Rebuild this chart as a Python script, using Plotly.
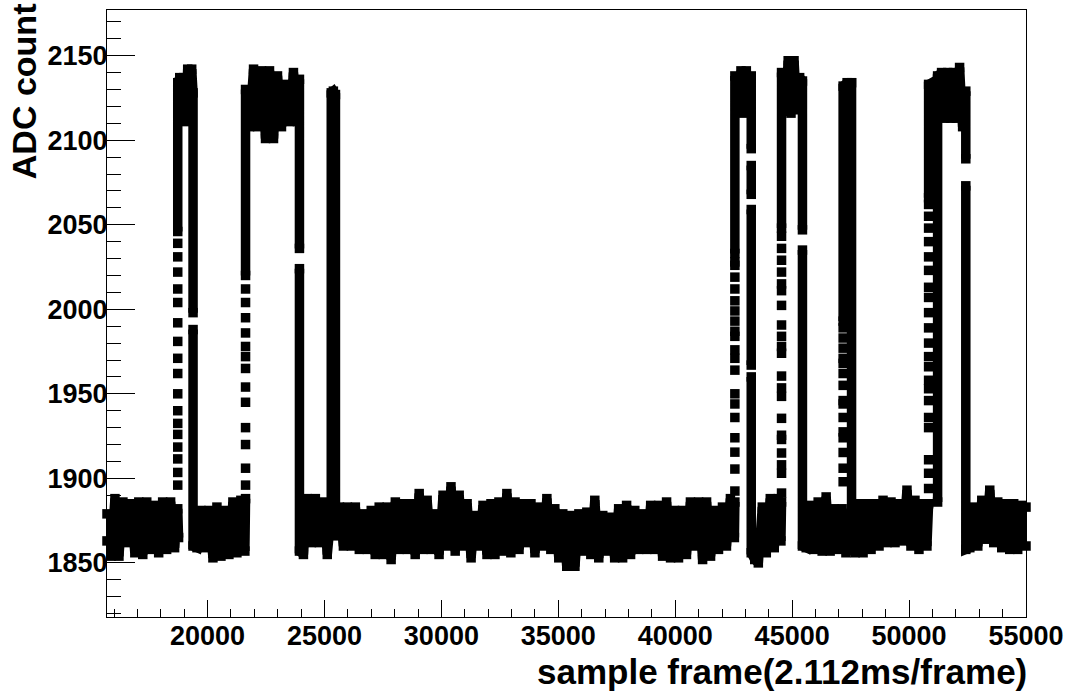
import plotly.graph_objects as go

# ---------------- data (frame, ADC count) ----------------
# baseline segments: alternating upper / lower edge of the noisy band
base_a_frame = [15700, 15700, 15870, 16040, 16210, 16380, 16550, 16720, 16890, 17060, 17230,
                17400, 17570, 17740, 17910, 18080, 18250, 18420, 18590, 18725, 18760]
base_a_adc = [1863, 1879, 1854, 1888, 1854, 1886, 1862, 1885, 1856, 1886, 1855,
              1886, 1858, 1884, 1856, 1886, 1858, 1886, 1859, 1882, 1865]

base_b_frame = [19548, 19718, 19889, 20060, 20230, 20401, 20572, 20742, 20913, 21084, 21254, 21425, 21596, 21625]
base_b_adc = [1859, 1881, 1859, 1881, 1853, 1883, 1854, 1881, 1855, 1886, 1856, 1887, 1857, 1888]

base_c_frame = [24100, 24270, 24440, 24610, 24780, 24950, 25120, 25290, 25290, 25380, 25470, 25470,
                25640, 25810, 25980, 26150, 26320, 26490, 26660, 26830, 27000, 27170,
                27340, 27510, 27680, 27850, 28030, 28200, 28370, 28540, 28710, 28880,
                29050, 29220, 29390, 29560, 29730, 29900, 30070, 30240, 30410, 30590,
                30760, 30930, 31100, 31270, 31440, 31610, 31780, 31950, 32120, 32290,
                32460, 32630, 32800, 32970, 33150, 33320, 33490, 33660, 33830, 34000,
                34170, 34340, 34510, 34680, 34850, 35020, 35190, 35360, 35530, 35710,
                35880, 36050, 36220, 36390, 36560, 36730, 36900, 37070, 37240, 37410,
                37580, 37750, 37920, 38090, 38270, 38440, 38610, 38780, 38950, 39120,
                39290, 39460, 39630, 39800, 39970, 40140, 40310, 40480, 40650, 40830,
                41000, 41170, 41340, 41510, 41680, 41850, 42020, 42190, 42360, 42530, 42550]
base_c_adc = [1855, 1888, 1862, 1888, 1862, 1886, 1855, 1880, 2128, 2129, 2127, 1866,
              1883, 1860, 1883, 1860, 1883, 1858, 1879, 1858, 1881, 1855,
              1883, 1855, 1883, 1852, 1886, 1858, 1885, 1858, 1885, 1855,
              1891, 1858, 1887, 1858, 1879, 1855, 1890, 1860, 1895, 1857,
              1890, 1860, 1885, 1853, 1878, 1860, 1884, 1855, 1885, 1855,
              1886, 1857, 1891, 1856, 1886, 1858, 1885, 1862, 1885, 1856,
              1883, 1860, 1888, 1858, 1882, 1853, 1879, 1848, 1878, 1848,
              1879, 1857, 1880, 1855, 1887, 1853, 1878, 1857, 1877, 1853,
              1882, 1853, 1884, 1855, 1881, 1858, 1879, 1858, 1884, 1858,
              1884, 1854, 1886, 1853, 1881, 1853, 1881, 1855, 1886, 1860,
              1886, 1852, 1886, 1854, 1881, 1858, 1883, 1860, 1888, 1865, 1886]

base_d_frame = [43400, 43553, 43723, 43894, 44065, 44235, 44406, 44520, 44546]
base_d_adc = [1852, 1850, 1883, 1856, 1888, 1859, 1888, 1863, 1886]

base_e_frame = [45600, 45771, 45941, 46112, 46283, 46453, 46624, 46795, 46965, 47136, 47300]
base_e_adc = [1859, 1884, 1858, 1886, 1857, 1889, 1857, 1882, 1858, 1882, 1856]

base_f_frame = [47691, 47862, 48033, 48203, 48374, 48544, 48715, 48886, 49056, 49227,
                49398, 49568, 49739, 49910, 50080, 50251, 50422, 50592, 50763, 50835]
base_f_adc = [1856, 1885, 1856, 1885, 1858, 1885, 1860, 1887, 1862, 1886,
              1862, 1885, 1863, 1893, 1860, 1887, 1858, 1885, 1860, 1885]

base_g_frame = [52597, 52768, 52938, 53109, 53280, 53450, 53621, 53792, 53962, 54133,
                54304, 54474, 54645, 54816, 55000, 55000]
base_g_adc = [1859, 1883, 1860, 1887, 1864, 1893, 1862, 1886, 1859, 1885,
              1858, 1885, 1858, 1884, 1860, 1883]

# pulses: rise column (solid part), top of pulse, fall column (None = visible gap)
p1_frame = [18725, 18725, 18810, 18895, 18980, 19066, 19151, 19236, 19322, 19380, 19380, None, 19380, 19380]
p1_adc = [2046, 2134, 2137, 2112, 2137, 2111, 2142, 2113, 2142, 2128, 1998, None, 1988, 1860]

p2_frame = [21625, 21625, 21796, 21967, 22137, 22308, 22479, 22649, 22820, 22991, 23161,
            23332, 23502, 23673, 23844, 23930, 23930, None, 23930, 23930]
p2_adc = [2020, 2130, 2108, 2142, 2108, 2141, 2101, 2141, 2101, 2138, 2108,
          2133, 2111, 2140, 2111, 2136, 2036, None, 2024, 1857]

p4_frame = [42550, 42550, 42700, 42810, 42930, 43040, 43160, 43250, 43250, None,
            43250, 43250, None, 43250, 43250, None, 43250, 43250]
p4_adc = [2033, 2138, 2117, 2141, 2116, 2141, 2119, 2138, 2095, None,
          2085, 2068, None, 2059, 1967, None, 1960, 1856]

p5_frame = [44546, 44546, 44700, 44830, 44950, 45080, 45200, 45320, 45440, 45440, None, 45440, 45440]
p5_adc = [2048, 2140, 2117, 2147, 2116, 2147, 2118, 2137, 2135, 2047, None, 2035, 1860]

p6_frame = [47180, 47180, 47350, 47540, 47540]
p6_adc = [1993, 2132, 2134, 2134, 1858]

p7_frame = [50835, 50835, 51220, 51220, 51220, 51390, 51520, 51650, 51780, 51900,
            52030, 52160, 52290, 52425, 52425, None, 52425, 52425]
p7_adc = [2066, 2133, 2136, 1886, 2138, 2140, 2113, 2140, 2113, 2140,
          2113, 2143, 2108, 2129, 2089, None, 2073, 1858]

# sparse samples on the rising edges (drawn as separate squares)
rise_frames = [18725, 21625, 42550, 44546, 47180, 50835]
p1_rise_adc = [1896, 1903.5, 1911.5, 1918.5, 1926, 1932.5, 1940, 1950, 1962, 1971, 1981,
               1992, 2004, 2012, 2022, 2031, 2039]
p2_rise_adc = [1896, 1906, 1920, 1930, 1945, 1954, 1965, 1972, 1978, 1986, 1995, 2004, 2012]
p4_rise_adc = [1892.5, 1905.5, 1915.5, 1924, 1936, 1944, 1950, 1964, 1971, 1976, 1984,
               1987, 1993, 1999, 2005, 2012, 2019, 2026, 2028]
p5_rise_adc = [1891.3, 1903, 1908, 1915, 1923, 1925.5, 1935.5, 1948.5, 1953.5, 1960.5,
               1974, 1978, 1984, 1990.7, 2002.3, 2011, 2015, 2022, 2029, 2036, 2043.2]
p6_rise_adc = [1898, 1906, 1915.3, 1924, 1927.5, 1936, 1944, 1946, 1955, 1962, 1968,
               1971, 1977, 1983, 1989]
p7_rise_adc = [1894, 1903, 1911, 1930, 1936, 1946, 1953, 1958, 1966, 1972, 1980, 1989,
               1998, 2007, 2013, 2023, 2031, 2040, 2048, 2055, 2062]

x_tick_vals = [20000, 25000, 30000, 35000, 40000, 45000, 50000, 55000]
y_tick_vals = [1850, 1900, 1950, 2000, 2050, 2100, 2150]
x_title = "sample frame(2.112ms/frame)"
y_title = "ADC count"

# ---------------- assemble the trace ----------------
order = [
    (base_a_frame, base_a_adc, True),
    (p1_frame, p1_adc, False),
    (base_b_frame, base_b_adc, True),
    (p2_frame, p2_adc, False),
    (base_c_frame, base_c_adc, True),
    (p4_frame, p4_adc, False),
    (base_d_frame, base_d_adc, True),
    (p5_frame, p5_adc, False),
    (base_e_frame, base_e_adc, True),
    (p6_frame, p6_adc, False),
    (base_f_frame, base_f_adc, True),
    (p7_frame, p7_adc, False),
    (base_g_frame, base_g_adc, False),
]
line_x, line_y = [], []
for fr, ad, brk in order:
    line_x += list(fr)
    line_y += list(ad)
    if brk:
        line_x.append(None)
        line_y.append(None)

rise_lists = [p1_rise_adc, p2_rise_adc, p4_rise_adc, p5_rise_adc, p6_rise_adc, p7_rise_adc]
dash_x, dash_y = [], []
for fr, ad in zip(rise_frames, rise_lists):
    dash_x += [fr] * len(ad)
    dash_y += ad

MS = 9.5
fig = go.Figure()
fig.add_trace(go.Scatter(
    x=line_x, y=line_y, mode="lines+markers", connectgaps=False,
    line=dict(color="black", width=MS, simplify=False),
    marker=dict(symbol="square", size=MS, color="black", line=dict(width=0)),
    cliponaxis=False, hoverinfo="skip", showlegend=False))
fig.add_trace(go.Scatter(
    x=dash_x, y=dash_y, mode="markers",
    marker=dict(symbol="square", size=MS, color="black", line=dict(width=0)),
    cliponaxis=False, hoverinfo="skip", showlegend=False))

FONT = "Liberation Sans, Arial, Helvetica, sans-serif"
tickfont = dict(family=FONT, size=27, color="black", weight="bold")

fig.update_layout(
    width=1073, height=698,
    margin=dict(l=107, r=44, t=9, b=81),
    paper_bgcolor="white", plot_bgcolor="white",
    showlegend=False,
    xaxis=dict(
        range=[15700, 55000], tickvals=x_tick_vals, tickformat="d",
        ticks="inside", ticklen=17, tickwidth=1, tickcolor="black",
        minor=dict(ticks="inside", ticklen=8, dtick=1000, tick0=0, tickcolor="black", tickwidth=1),
        showline=True, linecolor="black", linewidth=1, mirror=True,
        showgrid=False, zeroline=False, tickfont=tickfont, ticklabelstandoff=-5,
    ),
    yaxis=dict(
        range=[1818, 2177], tickvals=y_tick_vals, tickformat="d",
        ticks="inside", ticklen=28, tickwidth=1, tickcolor="black",
        minor=dict(ticks="inside", ticklen=14, dtick=10, tick0=0, tickcolor="black", tickwidth=1),
        showline=True, linecolor="black", linewidth=1, mirror=True,
        showgrid=False, zeroline=False, tickfont=tickfont, ticklabelstandoff=-7,
    ),
    annotations=[
        dict(text=x_title, xref="paper", yref="paper", x=1.003, y=-0.09,
             xanchor="right", yanchor="middle", showarrow=False,
             font=dict(family=FONT, size=35, color="black", weight="bold")),
        dict(text=y_title, xref="paper", yref="paper", x=-0.09, y=1.015,
             xanchor="center", yanchor="top", textangle=-90, showarrow=False,
             font=dict(family=FONT, size=34, color="black", weight="bold")),
    ],
)

fig.write_html("out.html", config={"displayModeBar": False},
               post_script="document.body.style.margin='0';document.body.style.padding='0';")
